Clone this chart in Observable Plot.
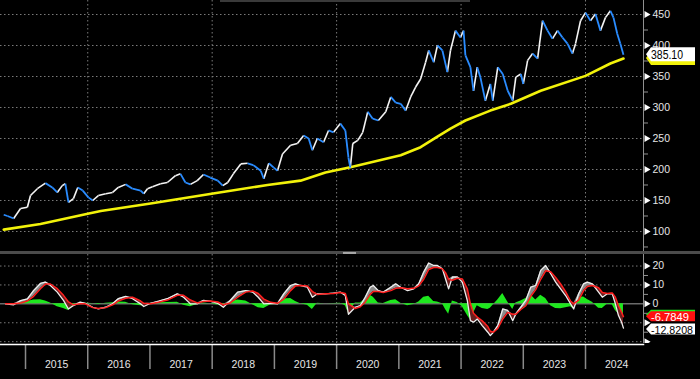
<!DOCTYPE html>
<html><head><meta charset="utf-8">
<script src="https://cdn.jsdelivr.net/npm/d3@7"></script>
<script src="https://cdn.jsdelivr.net/npm/@observablehq/plot@0.6"></script>
<style>
html,body{margin:0;padding:0;background:#000;}
#wrap{position:relative;width:700px;height:379px;background:#000;overflow:hidden;font-family:"Liberation Sans",Arial,sans-serif;}
#wrap > div.p{position:absolute;left:0;}
#sep{position:absolute;left:0;top:251px;width:700px;height:3px;background:#4b4b4b;}
#handle{position:absolute;left:343px;top:251.5px;width:13px;height:2px;background:#a6a6a6;}
#topline{position:absolute;left:220px;top:0;width:250px;height:1.5px;background:#3a3a3a;}
</style></head><body><div id="wrap"></div>
<script>
// ---- price (weekly close) ----
const priceYears = [
  2014.65,2014.71,2014.81,2014.92,
  2015.03,2015.08,2015.19,2015.32,2015.43,2015.51,2015.59,2015.64,2015.69,2015.77,2015.84,2015.92,
  2016.01,2016.08,2016.17,2016.29,2016.40,2016.49,2016.61,2016.72,2016.85,2016.90,2016.96,
  2017.04,2017.17,2017.28,2017.41,2017.49,2017.57,2017.65,2017.76,2017.86,2017.97,
  2018.09,2018.17,2018.25,2018.34,2018.46,2018.57,2018.66,2018.78,2018.83,2018.91,2018.99,
  2019.05,2019.13,2019.26,2019.37,2019.47,2019.55,2019.61,2019.69,2019.79,2019.87,2019.95,
  2020.06,2020.14,2020.19,2020.22,2020.26,2020.34,2020.42,2020.50,2020.58,2020.67,2020.79,2020.87,2020.95,
  2021.03,2021.11,2021.19,2021.27,2021.35,2021.43,2021.48,2021.56,2021.62,2021.70,2021.78,2021.83,2021.91,2021.99,
  2022.04,2022.07,2022.15,2022.20,2022.26,2022.31,2022.39,2022.47,2022.51,2022.59,2022.67,2022.75,2022.83,2022.88,2022.96,
  2023.00,2023.07,2023.15,2023.23,2023.31,2023.39,2023.47,2023.55,2023.63,2023.71,2023.79,2023.84,2023.92,
  2024.00,2024.08,2024.16,2024.24,2024.32,2024.40,2024.45,2024.51,2024.56,2024.61
];
const priceValues = [
  127,125,121,137,
  139,158,169,178,171,163,174,177,147,153,171,166,
  155,150,158,161,163,171,176,169,166,161,169,
  172,177,179,190,193,179,176,182,192,187,
  182,174,179,193,209,210,207,198,185,210,203,
  198,225,239,242,255,250,231,250,244,263,260,
  274,263,219,203,242,247,260,293,282,279,293,317,308,
  306,295,317,333,346,373,392,373,400,392,357,392,424,413,
  424,384,365,327,365,349,311,338,311,365,354,327,311,349,354,
  338,376,387,379,440,424,411,424,413,403,387,403,440,
  453,440,451,424,445,456,445,419,403,385.1
];
// ---- moving average ----
const maYears = [2014.65,2015.24,2016.00,2016.21,2017.01,2017.99,2018.89,2019.42,2019.82,2020.22,2021.03,2021.35,2021.62,2021.83,2022.07,2022.47,2022.80,2023.28,2024.00,2024.40,2024.61];
const maValues = [103,112,128.5,133,145,161,175,182,195,203.5,223,236,253,266,279,295,306,327,351,371,379];
// ---- oscillator ----
const oscYears = [
  2014.68,2014.81,2014.92,2015.03,2015.13,2015.24,2015.32,2015.40,2015.51,2015.61,2015.69,2015.77,2015.88,2015.96,
  2016.08,2016.17,2016.29,2016.40,2016.49,2016.61,2016.72,2016.85,2016.90,
  2017.01,2017.14,2017.28,2017.44,2017.54,2017.65,2017.76,2017.86,2017.97,
  2018.09,2018.18,2018.29,2018.41,2018.54,2018.65,2018.74,2018.83,2018.94,
  2019.05,2019.15,2019.26,2019.34,2019.42,2019.53,2019.61,2019.69,2019.82,2019.95,
  2020.06,2020.14,2020.19,2020.30,2020.38,2020.46,2020.54,2020.59,2020.67,2020.75,2020.87,2020.95,
  2021.03,2021.14,2021.24,2021.32,2021.40,2021.48,2021.56,2021.62,2021.70,2021.75,2021.80,2021.86,2021.94,
  2022.02,2022.10,2022.15,2022.20,2022.26,2022.34,2022.43,2022.47,2022.52,2022.59,2022.67,2022.75,2022.83,2022.88,2022.96,
  2023.04,2023.12,2023.20,2023.28,2023.36,2023.44,2023.52,2023.60,2023.68,2023.76,2023.81,2023.89,2023.97,
  2024.03,2024.11,2024.21,2024.27,2024.35,2024.43,2024.48,2024.53,2024.58,2024.61
];
const macdValues = [
  0,-0.5,1.7,2.6,7,10.8,11.5,9.7,6.2,1.8,-2.7,-0.9,0.9,0.3,
  -1.8,-2.7,-1.8,0,2.7,3.9,2.7,0,-1.4,
  0.3,1.4,2.7,5.3,3.5,0,0,1.8,1.4,
  0.3,-1.8,1.8,6.2,7,6.2,3.5,0,0.3,
  0,5.3,9.7,10.6,9.7,8.8,3.5,5.3,5.3,5.7,
  6.2,4.4,-5.5,-1.8,-1,3.5,8.8,9.7,7,6.2,8.8,10.6,
  8.8,7,7.9,10.6,16.8,21.6,20.3,20.3,18.5,13.3,7.9,14.2,14.2,
  11.5,1.8,-8.9,-9.7,-8,-11.5,-15,-16.8,-15,-11.5,-2.7,-3.5,-8.9,-5.3,-1.8,
  1.8,8.8,9.7,17.7,20.3,15.9,11.5,7.9,4.4,0,-2.7,5.3,10.6,
  11.5,10.6,6.2,3.5,5.3,5.3,0,-6.2,-9.7,-12.8208
];
const signalValues = [
  0,0,0.5,1.5,4,8,10.5,10.5,8,4.5,1,-0.5,0,0,
  -2,-2.5,-2,-0.5,1.5,3,3.5,1.5,0.3,
  0,0.8,2,4.5,4.5,2,0.5,1.2,1.5,
  1,-0.5,0.5,3.5,6.2,6.8,5.5,2.5,0.8,
  0.3,2.5,7,9.5,9.7,9.5,6.5,5,5.3,5.5,
  6,5.5,0,-2.5,-1.5,1,5,6.5,6.5,6,7,8.2,
  8.5,8,8.2,9.5,13,18.2,19.2,19.2,18.5,16.5,13,12.5,13.5,
  13.2,8,0,-5,-7,-9,-12,-14.5,-15,-13,-8,-4.5,-5.5,-5.5,-3,
  -1,4,7.5,13,17.5,17,14,10.5,6.5,1.5,0,2,7,
  9.2,9.7,8.5,6,5.5,5.8,3.5,-1,-4.5,-6.7849
];
const histValues = [
  0,-0.3,1,1.2,2,2.2,1.5,0.5,-1.5,-2.5,-3.5,-1,0.5,0.3,
  0.2,-0.3,0.3,0.6,1,0.8,-0.5,-1,-1.2,
  0.3,0.6,0.7,0.8,-0.8,-1.5,-0.3,0.5,0,
  -0.6,-1,1,2,1.5,-0.5,-2,-2.5,-0.5,
  -0.3,2.5,2.8,1.2,0,-0.8,-3,0.3,0,0.2,
  0.3,-1,-5,0.5,0.5,2.5,4.5,3.5,0.5,0.2,1.8,2.2,
  0.3,-1,-0.3,1,3.5,4,1.2,1,0,-3,-5.5,1.5,0.7,
  -1.5,-6,-8.5,-5,-1,-2.5,-3,-2.3,-0.5,2,5.5,1,-3,0.5,1.5,
  2.8,4.8,2,4.5,2.8,-1,-2.5,-2.6,-2.1,-1.5,-2.7,3.3,3.6,
  2.3,0.9,-2.3,-2.5,-0.2,-0.5,-3.5,-5.2,-5.2,-6.0359
];
// ---- axes / labels ----
const yearLabels = [2015,2016,2017,2018,2019,2020,2021,2022,2023,2024];
const gridYears = [2016,2018,2020,2022,2024];
const priceTicks = [100,150,200,250,300,350,400,450];
const priceMinorTicks = [75,125,175,225,275,325,375,425];
const oscTicks = [-20,-10,0,10,20];
const oscLabelTicks = [0,10,20];
const oscMinorTicks = [-15,-5,5,15];
const oscGrid = [-20,-10,10,20];
const lastPrice = {value:385.10, text:"385.10"};
const lastMA = {value:379};
const lastSignal = {value:-6.7849, text:"-6.7849"};
const lastMacd = {value:-12.8208, text:"-12.8208"};
const lastHist = {value:-6.0359};

const xDomain = [2014.598, 2024.932];
const baseStyle = {background:"#000", color:"#e6e6e6", fontFamily:"Liberation Sans, Arial, sans-serif", fontSize:"10.5px", overflow:"visible"};
const dotted = {stroke:"#7a7a7a", strokeDasharray:"1.5,2.5", strokeWidth:1};

const price = priceYears.map((x,i)=>({x, y:priceValues[i]}));
const segs = price.slice(1).map((d,i)=>({x1:price[i].x, y1:price[i].y, x2:d.x, y2:d.y, up:d.y>=price[i].y}));
const ma = maYears.map((x,i)=>({x, y:maValues[i]}));
const osc = oscYears.map((x,i)=>({x, macd:macdValues[i], signal:signalValues[i], hist:histValues[i]}));

const wrap = document.getElementById("wrap");

function addBox(svg, cy, h, fill, textFill, text, fs, len){
  const tip = 646, x0 = 651, x1 = 695;
  const g = d3.select(svg).append("g");
  g.append("polygon")
    .attr("points", `${tip},${cy} ${x0},${cy-h/2} ${x1},${cy-h/2} ${x1},${cy+h/2} ${x0},${cy+h/2}`)
    .attr("fill", fill);
  if (text) g.append("text").attr("x", x0).attr("y", cy+0.5)
    .attr("text-anchor","start")
    .attr("dominant-baseline","central")
    .attr("fill", textFill)
    .attr("font-family","Liberation Sans, Arial, sans-serif")
    .attr("font-size", fs)
    .attr("textLength", len)
    .attr("lengthAdjust", "spacingAndGlyphs")
    .text(text);
}

// ---- main panel ----
const main = Plot.plot({
  width:700, height:252, marginLeft:0, marginRight:57, marginTop:0, marginBottom:0,
  style:baseStyle,
  x:{domain:xDomain, axis:null},
  y:{domain:[66.1,472.6], axis:null},
  marks:[
    Plot.ruleY(priceTicks, dotted),
    Plot.ruleX(gridYears, dotted),
    Plot.line(ma, {x:"x", y:"y", stroke:"#f2f20a", strokeWidth:2.6}),
    Plot.link(segs.filter(d=>d.up), {x1:"x1", y1:"y1", x2:"x2", y2:"y2", stroke:"#f4f4f4", strokeWidth:1.6}),
    Plot.link(segs.filter(d=>!d.up), {x1:"x1", y1:"y1", x2:"x2", y2:"y2", stroke:"#2a8cff", strokeWidth:1.8}),
    Plot.frame({anchor:"right", stroke:"#909090"}),
    Plot.axisY({anchor:"right", ticks:priceMinorTicks, tickSize:4, tickFormat:()=>"", stroke:"#909090"}),
    Plot.dot(priceTicks, {y:d=>d, frameAnchor:"right", symbol:"triangle", rotate:90, r:2.6, fill:"#fff", dx:3}),
    Plot.axisY({anchor:"right", ticks:priceTicks, tickSize:0, tickPadding:9, fill:"#e6e6e6"})
  ]
});
const ym = main.scale("y");
addBox(main, ym.apply(lastMA.value), 14, "#f2f20a", "#000", "", 12, 0);
addBox(main, ym.apply(lastPrice.value), 14, "#ffffff", "#000", lastPrice.text, 12.5, 32);
const d1 = document.createElement("div"); d1.className="p"; d1.style.top="0px"; d1.appendChild(main); wrap.appendChild(d1);

// ---- oscillator panel ----
const lower = Plot.plot({
  width:700, height:90, marginLeft:0, marginRight:57, marginTop:0, marginBottom:0,
  style:baseStyle,
  x:{domain:xDomain, axis:null},
  y:{domain:[-21.5,26.1], axis:null},
  marks:[
    Plot.ruleY(oscGrid, dotted),
    Plot.ruleX(gridYears, dotted),
    Plot.ruleY([0], {stroke:"#6a6a6a", strokeWidth:1.5}),
    Plot.areaY(osc, {x:"x", y:"hist", fill:"#1ee81e"}),
    Plot.areaY(osc, {x:"x", y1:"signal", y2:d=>Math.max(d.macd,d.signal), fill:"#8a8a8a"}),
    Plot.areaY(osc, {x:"x", y1:"signal", y2:d=>Math.min(d.macd,d.signal), fill:"#6a2020"}),
    Plot.line(osc, {x:"x", y:"macd", stroke:"#eeeeee", strokeWidth:1.3}),
    Plot.line(osc, {x:"x", y:"signal", stroke:"#ff1f1f", strokeWidth:1.5}),
    Plot.frame({anchor:"right", stroke:"#909090"}),
    Plot.axisY({anchor:"right", ticks:oscMinorTicks, tickSize:4, tickFormat:()=>"", stroke:"#909090"}),
    Plot.dot(oscTicks, {y:d=>d, frameAnchor:"right", symbol:"triangle", rotate:90, r:2.6, fill:"#fff", dx:3}),
    Plot.axisY({anchor:"right", ticks:oscLabelTicks, tickSize:0, tickPadding:9, fill:"#e6e6e6"})
  ]
});
const yl = lower.scale("y");
addBox(lower, yl.apply(lastHist.value), 10, "#1ee81e", "#000", "", 11, 0);
addBox(lower, yl.apply(lastSignal.value), 10, "#ff1010", "#fff", lastSignal.text, 11, 38);
addBox(lower, yl.apply(lastMacd.value) + 1.5, 11, "#ffffff", "#000", lastMacd.text, 11, 42);
const d2 = document.createElement("div"); d2.className="p"; d2.style.top="254px"; d2.appendChild(lower); wrap.appendChild(d2);

// ---- year axis strip ----
const axis = Plot.plot({
  width:700, height:36, marginLeft:0, marginRight:57, marginTop:1, marginBottom:10,
  style:baseStyle,
  x:{domain:xDomain, axis:null},
  marks:[
    Plot.ruleX(yearLabels, {stroke:"#8a8a8a", strokeWidth:1.5}),
    Plot.frame({anchor:"top", stroke:"#ffffff", strokeWidth:1.5}),
    Plot.text(yearLabels, {x:d=>d+0.5, text:d=>String(d), frameAnchor:"middle", dy:8, fill:"#e6e6e6", fontSize:10.5})
  ]
});
const d3div = document.createElement("div"); d3div.className="p"; d3div.style.top="343px"; d3div.appendChild(axis); wrap.appendChild(d3div);

const sep = document.createElement("div"); sep.id="sep"; wrap.appendChild(sep);
const handle = document.createElement("div"); handle.id="handle"; wrap.appendChild(handle);
const tl = document.createElement("div"); tl.id="topline"; wrap.appendChild(tl);
</script></body></html>
